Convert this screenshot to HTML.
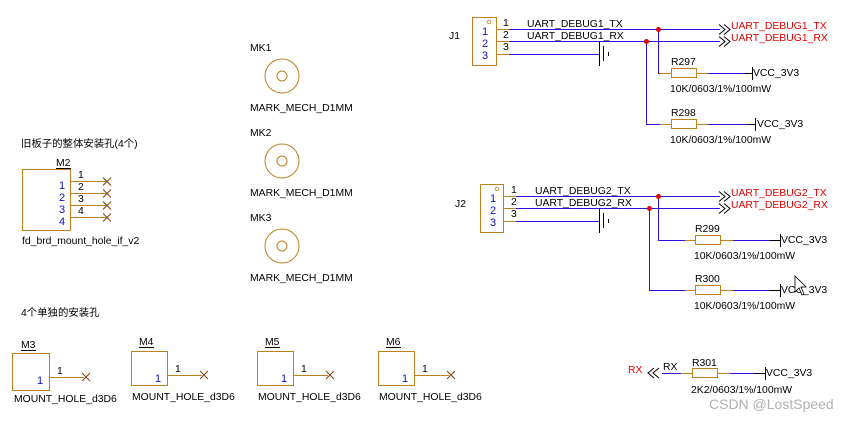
<!DOCTYPE html>
<html><head><meta charset="utf-8"><style>
html,body{margin:0;padding:0;background:#fff;}
svg{display:block;}
text{font-family:"Liberation Sans","Noto Sans CJK SC",sans-serif;font-size:10.4px;}
</style></head><body>
<svg width="849" height="421" viewBox="0 0 849 421" xmlns="http://www.w3.org/2000/svg">
<defs>
<g id="gnd" stroke="#000" stroke-width="1">
<line x1="599.5" y1="42" x2="599.5" y2="66"/><line x1="603.5" y1="46" x2="603.5" y2="61"/><line x1="608.5" y1="52" x2="608.5" y2="56"/>
</g>
</defs>
<!-- J1 -->
<text x="449" y="39" fill="#000">J1</text>
<rect x="472.5" y="17.5" width="24" height="48" fill="none" stroke="#c08020"/>
<circle cx="489" cy="22" r="1.8" fill="none" stroke="#c08020" stroke-width="0.8"/>
<text x="482" y="35" fill="#1010c0" style="font-size:11px">1</text><text x="482" y="47" fill="#1010c0" style="font-size:11px">2</text><text x="482" y="59" fill="#1010c0" style="font-size:11px">3</text>
<g stroke="#c08020"><line x1="496" y1="29.5" x2="509" y2="29.5"/><line x1="496" y1="41.5" x2="509" y2="41.5"/><line x1="496" y1="54.5" x2="509" y2="54.5"/></g>
<text x="503" y="26" fill="#000">1</text><text x="503" y="38" fill="#000">2</text><text x="503" y="50" fill="#000">3</text>
<g stroke="#3010e0"><line x1="509" y1="29.5" x2="720" y2="29.5"/><line x1="509" y1="41.5" x2="720" y2="41.5"/><line x1="509" y1="54.5" x2="599" y2="54.5"/>
<polyline points="658.5,29 658.5,73.5 670,73.5" fill="none"/><polyline points="646.5,41 646.5,124.5 660,124.5" fill="none"/>
<line x1="708" y1="73.5" x2="745" y2="73.5"/><line x1="708" y1="124.5" x2="748" y2="124.5"/></g>
<text x="527" y="27" fill="#000">UART_DEBUG1_TX</text><text x="527" y="39" fill="#000">UART_DEBUG1_RX</text>
<use href="#gnd"/>
<circle cx="658.5" cy="29.5" r="2.5" fill="#e00000"/><circle cx="646.5" cy="41.5" r="2.5" fill="#e00000"/>
<g stroke="#000" fill="none"><polyline points="719,24.5 725,29.5 719,34.5"/><polyline points="724,24.5 730,29.5 724,34.5"/><polyline points="719,36.5 725,41.5 719,46.5"/><polyline points="724,36.5 730,41.5 724,46.5"/></g>
<text x="731" y="29" fill="#e00000">UART_DEBUG1_TX</text><text x="731" y="41" fill="#e00000">UART_DEBUG1_RX</text>
<g stroke="#c08020" fill="none"><line x1="660" y1="73.5" x2="671" y2="73.5"/><rect x="671.5" y="68.5" width="25" height="9"/><line x1="696" y1="73.5" x2="708" y2="73.5"/>
<line x1="660" y1="124.5" x2="671" y2="124.5"/><rect x="671.5" y="119.5" width="25" height="9"/><line x1="696" y1="124.5" x2="708" y2="124.5"/></g>
<g stroke="#000"><line x1="745" y1="73.5" x2="752" y2="73.5"/><line x1="752.5" y1="67" x2="752.5" y2="80"/><line x1="748" y1="124.5" x2="755" y2="124.5"/><line x1="755.5" y1="118" x2="755.5" y2="131"/></g>
<text x="671" y="65" fill="#000">R297</text><text x="753" y="76" fill="#000">VCC_3V3</text><text x="670" y="92" fill="#000">10K/0603/1%/100mW</text>
<text x="671" y="116" fill="#000">R298</text><text x="757" y="127" fill="#000">VCC_3V3</text><text x="670" y="143" fill="#000">10K/0603/1%/100mW</text>
<!-- J2 -->
<text x="455" y="207" fill="#000">J2</text>
<rect x="480.5" y="184.5" width="23" height="48" fill="none" stroke="#c08020"/>
<circle cx="497" cy="189" r="1.8" fill="none" stroke="#c08020" stroke-width="0.8"/>
<text x="490" y="202" fill="#1010c0" style="font-size:11px">1</text><text x="490" y="214" fill="#1010c0" style="font-size:11px">2</text><text x="490" y="226" fill="#1010c0" style="font-size:11px">3</text>
<g stroke="#c08020"><line x1="503" y1="196.5" x2="516" y2="196.5"/><line x1="503" y1="208.5" x2="516" y2="208.5"/><line x1="503" y1="221.5" x2="516" y2="221.5"/></g>
<text x="511" y="193" fill="#000">1</text><text x="511" y="205" fill="#000">2</text><text x="511" y="217" fill="#000">3</text>
<g stroke="#3010e0"><line x1="516" y1="196.5" x2="720" y2="196.5"/><line x1="516" y1="208.5" x2="720" y2="208.5"/><line x1="516" y1="221.5" x2="599" y2="221.5"/>
<polyline points="658.5,196 658.5,240.5 685,240.5" fill="none"/><polyline points="649.5,208 649.5,290.5 685,290.5" fill="none"/>
<line x1="733" y1="240.5" x2="770" y2="240.5"/><line x1="733" y1="290.5" x2="770" y2="290.5"/></g>
<text x="535" y="194" fill="#000">UART_DEBUG2_TX</text><text x="535" y="206" fill="#000">UART_DEBUG2_RX</text>
<use href="#gnd" transform="translate(0,167)"/>
<circle cx="658.5" cy="196.5" r="2.5" fill="#e00000"/><circle cx="649.5" cy="208.5" r="2.5" fill="#e00000"/>
<g stroke="#000" fill="none"><polyline points="719,191.5 725,196.5 719,201.5"/><polyline points="724,191.5 730,196.5 724,201.5"/><polyline points="719,203.5 725,208.5 719,213.5"/><polyline points="724,203.5 730,208.5 724,213.5"/></g>
<text x="731" y="196" fill="#e00000">UART_DEBUG2_TX</text><text x="731" y="208" fill="#e00000">UART_DEBUG2_RX</text>
<g stroke="#c08020" fill="none"><line x1="685" y1="240.5" x2="695" y2="240.5"/><rect x="695.5" y="235.5" width="25" height="9"/><line x1="720" y1="240.5" x2="733" y2="240.5"/>
<line x1="685" y1="290.5" x2="695" y2="290.5"/><rect x="695.5" y="285.5" width="25" height="9"/><line x1="720" y1="290.5" x2="733" y2="290.5"/></g>
<g stroke="#000"><line x1="770" y1="240.5" x2="780" y2="240.5"/><line x1="780.5" y1="234" x2="780.5" y2="247"/><line x1="770" y1="290.5" x2="780" y2="290.5"/><line x1="780.5" y1="284" x2="780.5" y2="297"/></g>
<text x="695" y="232" fill="#000">R299</text><text x="781" y="243" fill="#000">VCC_3V3</text><text x="694" y="259" fill="#000">10K/0603/1%/100mW</text>
<text x="695" y="282" fill="#000">R300</text><text x="781" y="293" fill="#000">VCC_3V3</text><text x="694" y="309" fill="#000">10K/0603/1%/100mW</text>
<path d="M795,276 L795,292 L799,288 L802,295 L804,294 L801,287 L806,287 Z" fill="#fff" stroke="#000" stroke-width="0.8"/>
<!-- MK -->
<g stroke="#c08020" fill="none"><circle cx="282" cy="76" r="17"/><circle cx="282" cy="76" r="5"/><circle cx="282" cy="161" r="17"/><circle cx="282" cy="161" r="5"/><circle cx="282" cy="246" r="17"/><circle cx="282" cy="246" r="5"/></g>
<text x="250" y="51" fill="#000">MK1</text><text x="250" y="111" fill="#000">MARK_MECH_D1MM</text>
<text x="250" y="136" fill="#000">MK2</text><text x="250" y="196" fill="#000">MARK_MECH_D1MM</text>
<text x="250" y="221" fill="#000">MK3</text><text x="250" y="281" fill="#000">MARK_MECH_D1MM</text>
<!-- M2 -->
<text x="21" y="147" fill="#000">旧板子的整体安装孔(4个)</text>
<text x="56" y="166" fill="#000">M2</text><line x1="56" y1="168.5" x2="71" y2="168.5" stroke="#000"/>
<rect x="22.5" y="169.5" width="48" height="61" fill="none" stroke="#c08020"/>
<g fill="#1010c0" style="font-size:11px"><text x="59" y="189" style="font-size:11px">1</text><text x="59" y="201" style="font-size:11px">2</text><text x="59" y="213" style="font-size:11px">3</text><text x="59" y="225" style="font-size:11px">4</text></g>
<g stroke="#c08020"><line x1="70" y1="181.5" x2="107" y2="181.5"/><line x1="70" y1="193.5" x2="107" y2="193.5"/><line x1="70" y1="205.5" x2="107" y2="205.5"/><line x1="70" y1="217.5" x2="107" y2="217.5"/></g>
<g stroke="#804010"><path d="M103,177.5l8,8M111,177.5l-8,8M103,189.5l8,8M111,189.5l-8,8M103,201.5l8,8M111,201.5l-8,8M103,213.5l8,8M111,213.5l-8,8"/></g>
<text x="78" y="178" fill="#000">1</text><text x="78" y="190" fill="#000">2</text><text x="78" y="202" fill="#000">3</text><text x="78" y="214" fill="#000">4</text>
<text x="22" y="244" fill="#000">fd_brd_mount_hole_if_v2</text>
<!-- M3-M6 -->
<text x="21" y="316" fill="#000">4个单独的安装孔</text>
<g stroke="#c08020" fill="none"><rect x="12.5" y="353.5" width="37" height="37"/><rect x="131.5" y="351.5" width="36" height="34"/><rect x="257.5" y="351.5" width="36" height="34"/><rect x="378.5" y="351.5" width="36" height="34"/>
<line x1="50" y1="377.5" x2="84" y2="377.5"/><line x1="168" y1="375.5" x2="202" y2="375.5"/><line x1="294" y1="375.5" x2="328" y2="375.5"/><line x1="415" y1="375.5" x2="449" y2="375.5"/></g>
<g stroke="#804010"><path d="M82,373l8,8M90,373l-8,8M200,371l8,8M208,371l-8,8M326,371l8,8M334,371l-8,8M447,371l8,8M455,371l-8,8"/></g>
<g fill="#000"><text x="21" y="348">M3</text><text x="139" y="345">M4</text><text x="265" y="345">M5</text><text x="386" y="345">M6</text>
<text x="57" y="374">1</text><text x="175" y="372">1</text><text x="301" y="372">1</text><text x="422" y="372">1</text>
<text x="14" y="402">MOUNT_HOLE_d3D6</text><text x="132" y="400">MOUNT_HOLE_d3D6</text><text x="258" y="400">MOUNT_HOLE_d3D6</text><text x="379" y="400">MOUNT_HOLE_d3D6</text></g>
<g stroke="#000"><line x1="21" y1="350.5" x2="36" y2="350.5"/><line x1="139" y1="347.5" x2="154" y2="347.5"/><line x1="265" y1="347.5" x2="280" y2="347.5"/><line x1="386" y1="347.5" x2="401" y2="347.5"/></g>
<g fill="#1010c0"><text x="37" y="384" style="font-size:11px">1</text><text x="155" y="382" style="font-size:11px">1</text><text x="281" y="382" style="font-size:11px">1</text><text x="402" y="382" style="font-size:11px">1</text></g>
<!-- RX -->
<text x="628" y="373" fill="#e00000">RX</text>
<g stroke="#000" fill="none"><polyline points="654,368 648,373 654,378"/><polyline points="659,368 653,373 659,378"/></g>
<text x="663" y="370" fill="#000">RX</text>
<line x1="662" y1="373.5" x2="681" y2="373.5" stroke="#3010e0"/>
<g stroke="#c08020" fill="none"><line x1="681" y1="373.5" x2="692" y2="373.5"/><rect x="692.5" y="368.5" width="25" height="9"/><line x1="718" y1="373.5" x2="730" y2="373.5"/></g>
<line x1="730" y1="373.5" x2="755" y2="373.5" stroke="#3010e0"/>
<g stroke="#000"><line x1="755" y1="373.5" x2="765" y2="373.5"/><line x1="765.5" y1="367" x2="765.5" y2="380"/></g>
<text x="692" y="366" fill="#000">R301</text><text x="766" y="376" fill="#000">VCC_3V3</text><text x="691" y="393" fill="#000">2K2/0603/1%/100mW</text>
<text x="709" y="409" fill="#b0b0b0" style="font-size:14px">CSDN @LostSpeed</text>
</svg>
</body></html>
